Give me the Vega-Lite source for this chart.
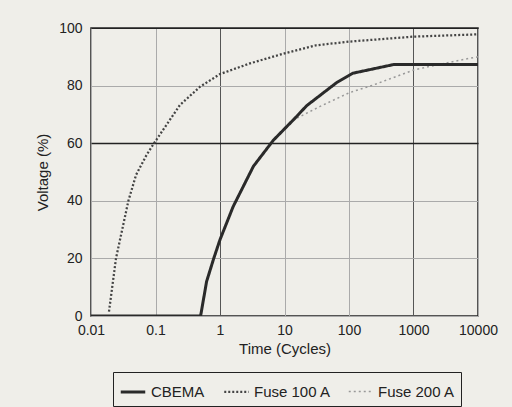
{
  "$schema": "https://vega.github.io/schema/vega-lite/v6.json",
  "autosize": "none",
  "width": 387,
  "height": 288,
  "padding": {"left": 91, "top": 28, "right": 34, "bottom": 91},
  "background": "#efeee9",
  "config": {
    "font": "Liberation Sans",
    "view": {"stroke": "#222", "strokeWidth": 1.5},
    "axis": {"labelFont": "Liberation Sans", "titleFont": "Liberation Sans", "labelColor": "#222", "titleColor": "#222", "titleFontWeight": "normal", "labelFontSize": 14, "titleFontSize": 15, "ticks": false, "domain": false},
    "legend": {"labelFont": "Liberation Sans", "labelFontSize": 15, "labelColor": "#222"}
  },
  "data": {
    "values": [
      {"t": 0.01, "v": 0, "s": "CBEMA"},
      {"t": 0.5, "v": 0, "s": "CBEMA"},
      {"t": 0.62, "v": 12, "s": "CBEMA"},
      {"t": 0.8, "v": 20, "s": "CBEMA"},
      {"t": 1, "v": 26.5, "s": "CBEMA"},
      {"t": 1.6, "v": 38, "s": "CBEMA"},
      {"t": 3.3, "v": 52, "s": "CBEMA"},
      {"t": 6.7, "v": 61, "s": "CBEMA"},
      {"t": 15, "v": 69, "s": "CBEMA"},
      {"t": 22, "v": 73, "s": "CBEMA"},
      {"t": 64, "v": 81, "s": "CBEMA"},
      {"t": 115, "v": 84.3, "s": "CBEMA"},
      {"t": 490, "v": 87.3, "s": "CBEMA"},
      {"t": 10000, "v": 87.3, "s": "CBEMA"},
      {"t": 0.019, "v": 1.5, "s": "Fuse 100 A"},
      {"t": 0.0244, "v": 20, "s": "Fuse 100 A"},
      {"t": 0.038, "v": 40, "s": "Fuse 100 A"},
      {"t": 0.05, "v": 49, "s": "Fuse 100 A"},
      {"t": 0.073, "v": 56, "s": "Fuse 100 A"},
      {"t": 0.095, "v": 60, "s": "Fuse 100 A"},
      {"t": 0.24, "v": 73.3, "s": "Fuse 100 A"},
      {"t": 0.49, "v": 79.6, "s": "Fuse 100 A"},
      {"t": 1, "v": 84, "s": "Fuse 100 A"},
      {"t": 2.9, "v": 87.7, "s": "Fuse 100 A"},
      {"t": 10, "v": 91.2, "s": "Fuse 100 A"},
      {"t": 31, "v": 94, "s": "Fuse 100 A"},
      {"t": 104, "v": 95.3, "s": "Fuse 100 A"},
      {"t": 1000, "v": 97, "s": "Fuse 100 A"},
      {"t": 10000, "v": 97.8, "s": "Fuse 100 A"},
      {"t": 0.5, "v": 0, "s": "Fuse 200 A"},
      {"t": 0.62, "v": 12, "s": "Fuse 200 A"},
      {"t": 1, "v": 26.5, "s": "Fuse 200 A"},
      {"t": 1.6, "v": 38, "s": "Fuse 200 A"},
      {"t": 3.3, "v": 52, "s": "Fuse 200 A"},
      {"t": 6.7, "v": 61, "s": "Fuse 200 A"},
      {"t": 15, "v": 68.5, "s": "Fuse 200 A"},
      {"t": 35, "v": 72.7, "s": "Fuse 200 A"},
      {"t": 100, "v": 77.5, "s": "Fuse 200 A"},
      {"t": 238, "v": 80.2, "s": "Fuse 200 A"},
      {"t": 1000, "v": 85.4, "s": "Fuse 200 A"},
      {"t": 2290, "v": 87.2, "s": "Fuse 200 A"},
      {"t": 7500, "v": 89.5, "s": "Fuse 200 A"},
      {"t": 10000, "v": 90, "s": "Fuse 200 A"}
    ]
  },
  "encoding": {
    "x": {"field": "t", "type": "quantitative", "scale": {"type": "log", "domain": [0.01, 10000], "nice": false},
      "axis": {"values": [0.01, 0.1, 1, 10, 100, 1000, 10000], "format": "~g", "title": "Time (Cycles)", "labelPadding": 7, "titlePadding": 4, "labelFlush": false, "labelOverlap": false,
        "gridColor": {"condition": {"test": "datum.value == 1 || datum.value == 1000", "value": "#555"}, "value": "#aaa"}, "gridWidth": 1}},
    "y": {"field": "v", "type": "quantitative", "scale": {"domain": [0, 100], "nice": false},
      "axis": {"values": [0, 20, 40, 60, 80, 100], "title": "Voltage (%)", "labelPadding": 9, "titlePadding": 8,
        "gridColor": {"condition": {"test": "datum.value == 60 || datum.value == 100", "value": "#222"}, "value": "#aaa"},
        "gridWidth": {"condition": {"test": "datum.value == 60", "value": 1.3}, "value": 1}}},
    "color": {"field": "s", "type": "nominal", "scale": {"domain": ["CBEMA", "Fuse 100 A", "Fuse 200 A"], "range": ["#2a2a2a", "#444", "#999"]},
      "legend": {"title": null, "orient": "none", "legendX": 22, "legendY": 344, "direction": "horizontal", "strokeColor": "#222", "padding": 6, "symbolType": "stroke", "symbolSize": 600, "columnPadding": 14, "labelOffset": 4}},
    "strokeDash": {"field": "s", "type": "nominal", "scale": {"domain": ["CBEMA", "Fuse 100 A", "Fuse 200 A"], "range": [[1, 0], [2, 2], [2, 3]]}},
    "strokeWidth": {"field": "s", "type": "nominal", "scale": {"domain": ["CBEMA", "Fuse 100 A", "Fuse 200 A"], "range": [3, 1.5, 1]}}
  },
  "layer": [
    {"transform": [{"filter": "datum.s == 'Fuse 200 A'"}], "mark": {"type": "line", "clip": true}},
    {"transform": [{"filter": "datum.s == 'Fuse 100 A'"}], "mark": {"type": "line", "clip": true}},
    {"transform": [{"filter": "datum.s == 'CBEMA'"}], "mark": {"type": "line", "clip": true}}
  ]
}
